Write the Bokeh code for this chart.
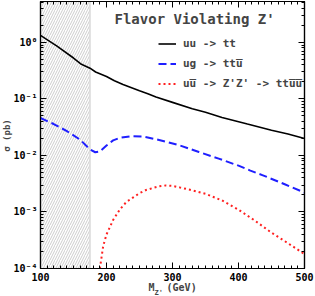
from bokeh.plotting import figure
from bokeh.models import (FixedTicker, LinearAxis, LogAxis, Label, Legend, LegendItem,
                          CustomJSTickFormatter, Range1d)
from bokeh.embed import file_html
from bokeh.resources import INLINE

# ---------------- data ----------------
mz_uu = [100, 125, 150, 162, 175, 183.5, 200, 212, 225, 250, 262.6, 275, 300, 330, 350,
         375, 413.5, 450, 475, 500]
sigma_uu = [1.33, 0.86, 0.53, 0.41, 0.35, 0.30, 0.25, 0.21, 0.18, 0.14, 0.124, 0.108, 0.087,
            0.067, 0.058, 0.047, 0.036, 0.028, 0.024, 0.020]

mz_ug = [100, 120, 140, 160, 175, 183, 190, 200, 210, 220, 237, 255, 272, 290, 310, 340,
         370, 400, 418, 436, 470, 500]
sigma_ug = [0.046, 0.036, 0.027, 0.019, 0.0128, 0.0114, 0.0118, 0.015, 0.0185, 0.0205,
            0.0219, 0.0217, 0.0197, 0.0175, 0.0152, 0.0115, 0.0088, 0.0066, 0.0054,
            0.0045, 0.0031, 0.0022]

mz_zz = [190, 195, 200, 210, 220, 230, 240, 250, 260, 270, 280, 290, 300, 312, 325, 350,
         375, 400, 425, 450, 475, 500]
sigma_zz = [1.0e-4, 2.5e-4, 4.0e-4, 7.2e-4, 1.1e-3, 1.5e-3, 1.8e-3, 2.15e-3, 2.45e-3,
            2.65e-3, 2.85e-3, 2.95e-3, 2.9e-3, 2.7e-3, 2.5e-3, 2.1e-3, 1.6e-3, 1.1e-3,
            7e-4, 4.3e-4, 2.8e-4, 1.8e-4]

excluded_lo, excluded_hi = 100, 175      # hatched region (GeV)
x_lo, x_hi = 100, 500
y_lo, y_hi = 1e-4, 5.3
x_ticks = [100, 200, 300, 400, 500]
y_ticks = [1e-4, 1e-3, 1e-2, 1e-1, 1.0]

labels = ["uu -> tt",
          "ug -> ttu\u0305",
          "uu\u0305 -> Z'Z' -> ttu\u0305u\u0305"]
title_text = "Flavor Violating Z'"
y_title = "\u03c3 (pb)"
x_title = "M\u00a0\u00a0(GeV)"
x_title_sub = "Z'"

# ---------------- figure ----------------
FONT = "DejaVu Sans Mono"
p = figure(width=315, height=296, x_range=Range1d(x_lo, x_hi), y_range=Range1d(y_lo, y_hi),
           y_axis_type="log", output_backend="svg", toolbar_location=None,
           min_border_left=39, min_border_right=11, min_border_top=1, min_border_bottom=28)
p.grid.visible = False
p.outline_line_color = "black"
p.outline_line_width = 1.2
p.background_fill_color = "white"
p.border_fill_color = "white"

x_minor = list(range(x_lo, x_hi + 1, 10))
y_minor = [k * 10.0 ** e for e in range(-4, 1) for k in range(2, 10)]
xt = FixedTicker(ticks=x_ticks, minor_ticks=x_minor)
yt = FixedTicker(ticks=y_ticks, minor_ticks=y_minor)

yfmt = CustomJSTickFormatter(code="""
const sup = {"0":"\u2070","1":"\u00b9","2":"\u00b2","3":"\u00b3","4":"\u2074","-":"\u207b"};
const e = Math.round(Math.log10(tick));
return "10" + String(e).split("").map(c => sup[c]).join("");
""")
blank = CustomJSTickFormatter(code='return "";')

def style(ax, show_labels):
    ax.axis_line_color = "black"
    ax.axis_line_width = 1.2
    ax.major_tick_in = 6
    ax.major_tick_out = 0
    ax.minor_tick_in = 3
    ax.minor_tick_out = 0
    ax.major_tick_line_color = "black"
    ax.minor_tick_line_color = "black"
    ax.major_label_text_font = FONT
    ax.major_label_text_font_style = "bold"
    ax.major_label_text_color = "black"
    ax.major_label_text_font_size = "10px"
    ax.major_label_standoff = 3
    if not show_labels:
        ax.formatter = blank
        ax.major_label_standoff = 0

xa = p.xaxis[0]
xa.ticker = xt
style(xa, True)
xa.major_label_standoff = 4

ya = p.yaxis[0]
ya.ticker = yt
ya.formatter = yfmt
style(ya, True)

top = LinearAxis(ticker=xt)
style(top, False)
p.add_layout(top, "above")
right = LogAxis(ticker=yt)
style(right, False)
p.add_layout(right, "right")

# excluded (hatched) region
p.quad(left=excluded_lo, right=excluded_hi, bottom=y_lo, top=y_hi,
       fill_alpha=0, hatch_pattern="/", hatch_color="#cdcdcd", hatch_scale=5,
       hatch_weight=1, line_color="#dadada", line_width=1.5)

r1 = p.line(mz_uu, sigma_uu, line_color="black", line_width=1.6)
r2 = p.line(mz_ug, sigma_ug, line_color="#1f1fff", line_width=2, line_dash="8 4")
r3 = p.line(mz_zz, sigma_zz, line_color="#ff2020", line_width=2, line_dash="2 3")

p.add_layout(Label(x=74, y=250, x_units="screen", y_units="screen", text=title_text,
                   text_font=FONT, text_font_style="bold", text_font_size="14px",
                   text_baseline="middle"))

legend = Legend(items=[LegendItem(label=labels[0], renderers=[r1]),
                       LegendItem(label=labels[1], renderers=[r2]),
                       LegendItem(label=labels[2], renderers=[r3])],
                location=(118, 176), padding=0, margin=0, spacing=3,
                label_height=17, glyph_height=17, glyph_width=18, label_standoff=7,
                label_text_font=FONT, label_text_font_style="bold",
                label_text_font_size="11px", border_line_alpha=0,
                background_fill_alpha=0)
p.add_layout(legend)

# axis titles (placed in the side panels)
lab = dict(x_units="screen", y_units="screen", text_font=FONT, text_font_style="bold",
           text_baseline="middle")
p.add_layout(Label(x=108, y=7, text=x_title, text_font_size="10px", **lab), "below")
p.add_layout(Label(x=-150, y=-24, text=x_title_sub, text_font_size="7px", **lab), "right")
p.add_layout(Label(x=6, y=133, text=y_title, angle=90, angle_units="deg",
                   text_align="center", text_font_size="9px", **lab), "left")

open("out.html", "w").write(file_html(p, INLINE))
